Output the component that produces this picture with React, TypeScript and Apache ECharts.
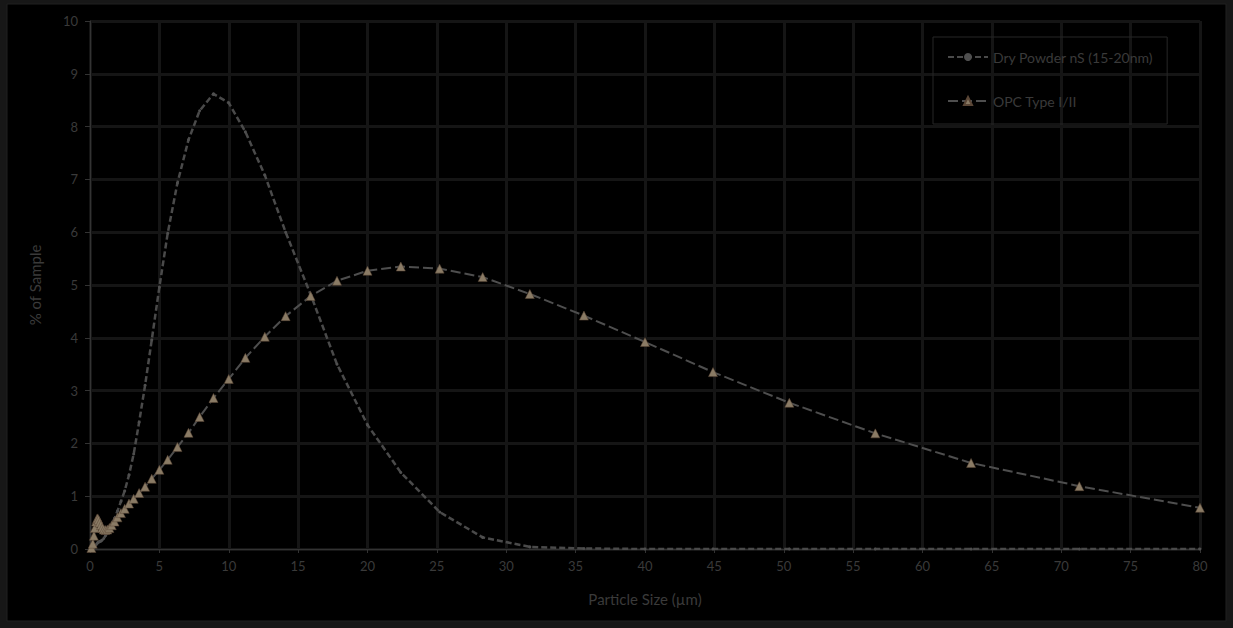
import React, { useEffect, useRef } from "react";
import * as echarts from "echarts";

const sizes = [0.1, 0.2, 0.28, 0.35, 0.44, 0.5, 0.56, 0.62, 0.7, 0.79, 0.88, 0.99, 1.11, 1.25, 1.4, 1.57, 1.77, 1.98, 2.23, 2.5, 2.81, 3.15, 3.54, 3.97, 4.45, 5.0, 5.6, 6.3, 7.1, 7.9, 8.9, 10, 11.2, 12.6, 14.1, 15.9, 17.8, 20, 22.4, 25.2, 28.3, 31.7, 35.6, 40, 44.9, 50.4, 56.6, 63.5, 71.3, 80];

const dryPowder = [0, 0, 0.02, 0.05, 0.08, 0.1, 0.12, 0.13, 0.14, 0.15, 0.17, 0.2, 0.25, 0.3, 0.38, 0.46, 0.58, 0.72, 0.9, 1.1, 1.4, 1.8, 2.4, 3.1, 3.96, 4.96, 5.98, 6.93, 7.75, 8.3, 8.62, 8.45, 7.9, 7.08, 6.0, 4.82, 3.5, 2.35, 1.45, 0.7, 0.22, 0.04, 0.01, 0, 0, 0, 0, 0, 0, 0];

const opc = [0.02, 0.1, 0.25, 0.4, 0.52, 0.57, 0.58, 0.55, 0.5, 0.45, 0.4, 0.37, 0.36, 0.37, 0.4, 0.45, 0.52, 0.6, 0.68, 0.76, 0.86, 0.95, 1.06, 1.18, 1.33, 1.5, 1.69, 1.93, 2.2, 2.5, 2.86, 3.22, 3.62, 4.02, 4.41, 4.79, 5.08, 5.27, 5.35, 5.31, 5.15, 4.83, 4.42, 3.92, 3.35, 2.77, 2.19, 1.63, 1.19, 0.78];

const seriesNames = ["Dry Powder nS (15-20nm)", "OPC Type I/II"];
const xAxisTitle = "Particle Size (µm)";
const yAxisTitle = "% of Sample";

export default function App() {
  const ref = useRef<HTMLDivElement>(null);
  useEffect(() => {
    if (!ref.current) return;
    const chart = echarts.init(ref.current, null, { renderer: "svg" });
    const font = "Lato, 'Open Sans', sans-serif";
    const textColor = "#3a3a3a";
    chart.setOption({
      animation: false,
      backgroundColor: "#171717",
      textStyle: { fontFamily: font },
      graphic: [
        {
          type: "rect",
          z: -10,
          shape: { x: 7, y: 4, width: 1219, height: 617 },
          style: { fill: "#000000", stroke: "#202020", lineWidth: 1 },
        },
      ],
      grid: { left: 90, right: 33, top: 21, bottom: 79 },
      legend: {
        orient: "vertical",
        left: 933,
        top: 37,
        width: 262,
        height: 86,
        padding: [13, 14, 16, 14],
        itemGap: 30,
        itemWidth: 40,
        itemHeight: 10,
        borderColor: "#262626",
        borderWidth: 1,
        textStyle: { color: textColor, fontSize: 14, fontFamily: font },
        data: seriesNames,
      },
      xAxis: {
        type: "value",
        min: 0,
        max: 80,
        interval: 5,
        name: xAxisTitle,
        nameLocation: "middle",
        nameGap: 42,
        nameTextStyle: { color: textColor, fontSize: 15, fontFamily: font },
        axisLine: { show: true, onZero: false, lineStyle: { color: "#333333", width: 1 } },
        axisTick: { show: true, length: 4, lineStyle: { color: "#333333" } },
        axisLabel: { color: textColor, fontSize: 13, margin: 10 },
        splitLine: { show: true, lineStyle: { color: "#151515", width: 3 } },
      },
      yAxis: {
        type: "value",
        min: 0,
        max: 10,
        interval: 1,
        name: yAxisTitle,
        nameLocation: "middle",
        nameGap: 48,
        nameTextStyle: { color: textColor, fontSize: 15, fontFamily: font },
        axisLine: { show: true, lineStyle: { color: "#333333", width: 1 } },
        axisTick: { show: true, length: 5, lineStyle: { color: "#333333" } },
        axisLabel: { color: textColor, fontSize: 13, margin: 12 },
        splitLine: { show: true, lineStyle: { color: "#151515", width: 3 } },
      },
      series: [
        {
          name: seriesNames[0],
          type: "line",
          data: sizes.map((x, i) => [x, dryPowder[i]]),
          symbol: "circle",
          symbolSize: 3,
          showAllSymbol: true,
          lineStyle: { color: "#4a4a4a", width: 2.5, type: [6, 3] },
          itemStyle: { color: "#4f4f4f" },
          z: 3,
        },
        {
          name: seriesNames[1],
          type: "line",
          data: sizes.map((x, i) => [x, opc[i]]),
          symbol: "triangle",
          symbolSize: 9,
          showAllSymbol: true,
          lineStyle: { color: "#4e4e4e", width: 2, type: [10, 4] },
          itemStyle: { color: "#8a7b65", borderColor: "#5a4636", borderWidth: 0.5 },
          z: 4,
        },
      ],
    });
    return () => chart.dispose();
  }, []);
  return (
    <div style={{ position: "fixed", left: 0, top: 0, width: 1233, height: 628, background: "#171717" }}>
      <div ref={ref} style={{ width: 1233, height: 628 }} />
    </div>
  );
}
